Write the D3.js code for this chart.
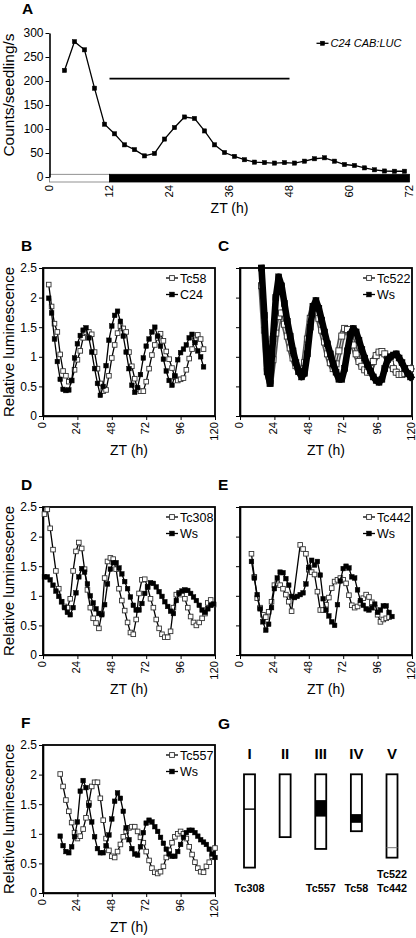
<!DOCTYPE html>
<html><head><meta charset="utf-8">
<script src="https://cdn.jsdelivr.net/npm/d3@7"></script>
<style>
body{margin:0;background:#fff}
svg{display:block}
text{font-family:"Liberation Sans",Arial,Helvetica,sans-serif;fill:#000}
</style>
</head><body>
<svg id="c" width="416" height="938"></svg>
<script>
// ---------------- DATA ----------------
// Panel A
const A_time   = [3,5,7,9,11,13,15,17,19,21,23,25,27,29,31,33,35,37,39,41,43,45,47,49,51,53,55,57,59,61,63,65,67,69,71];
const A_counts = [222,282,265,185,110,90,67,57,44,49,79,103,125,122,96,67,51,43,36,31,30,29,30,29,33,38,40,33,26,24,19,15,12.5,12,12];
const A_yTicks = [0,50,100,150,200,250,300];
const A_xTicks = [0,12,24,36,48,60,72];
const A_lightStart = [0,12];
const A_lightEnd   = [12,72];
const A_lightKind  = ["light","dark"];
const A_periodStart = 12, A_periodEnd = 48, A_periodLevel = 205;
const A_legend = "C24 CAB:LUC";

// common luminescence panels
const lumYTicks = [0,0.5,1,1.5,2,2.5];
const lumXTicks = [0,24,48,72,96,120];

// Panel B
const B_time  = [4,6,8,10,12,14,16,18,20,22,24,26,28,30,32,34,36,38,40,42,44,46,48,50,52,54,56,58,60,62,64,66,68,70,72,74,76,78,80,82,84,86,88,90,92,94,96,98,100,102,104,106,108,110,112];
const B_Tc58  = [2.22,1.85,1.56,1.42,1.04,0.76,0.68,0.58,0.60,0.78,0.95,1.10,1.32,1.42,1.42,1.38,1.08,0.80,0.55,0.42,0.44,0.68,0.98,1.20,1.40,1.52,1.48,1.42,1.08,0.84,0.63,0.45,0.42,0.42,0.58,0.80,1.03,1.20,1.32,1.39,1.27,1.09,0.96,0.81,0.66,0.60,0.62,0.64,0.78,0.97,1.13,1.28,1.37,1.30,1.13];
const B_C24   = [1.99,1.74,1.30,0.92,0.62,0.45,0.43,0.44,0.60,0.98,1.22,1.36,1.45,1.49,1.32,1.08,0.80,0.55,0.35,0.50,0.85,1.28,1.52,1.70,1.77,1.60,1.35,1.08,0.80,0.52,0.40,0.48,0.70,0.98,1.18,1.30,1.42,1.50,1.35,1.18,0.96,0.76,0.60,0.52,0.68,0.95,1.07,1.13,1.20,1.32,1.38,1.24,1.10,1.00,0.83];

// Panel C
const C_time  = [15,17,19,21,23,25,27,29,31,33,35,37,39,41,43,45,47,49,51,53,55,57,59,61,63,65,67,69,71,73,75,77,79,81,83,85,87,89,91,93,95,97,99,101,103,105,107,109,111,113,115,117,119];
const C_Tc522 = [2.20,1.45,0.75,0.55,0.95,1.40,1.68,1.74,1.55,1.35,1.15,0.98,0.85,0.75,0.72,0.90,1.30,1.65,1.85,1.82,1.65,1.45,1.25,1.05,0.90,0.80,0.88,1.10,1.35,1.48,1.46,1.35,1.20,1.05,0.92,0.84,0.78,0.74,0.80,0.92,1.02,1.08,1.09,1.05,0.96,0.88,0.80,0.74,0.70,0.70,0.72,0.76,0.80];
const C_Ws    = [2.50,1.70,0.75,0.55,1.30,2.00,2.35,2.20,1.90,1.60,1.35,1.10,0.90,0.75,0.66,0.72,1.05,1.50,1.85,1.95,1.82,1.62,1.42,1.22,1.05,0.88,0.74,0.62,0.62,0.80,1.10,1.38,1.48,1.42,1.28,1.12,0.98,0.86,0.76,0.66,0.60,0.57,0.62,0.80,0.95,1.00,1.03,1.05,0.98,0.90,0.80,0.72,0.66];

// Panel D
const D_time   = [1,3,5,7,9,11,13,15,17,19,21,23,25,27,29,31,33,35,37,39,41,43,45,47,49,51,53,55,57,59,61,63,65,67,69,71,73,75,77,79,81,83,85,87,89,91,93,95,97,99,101,103,105,107,109,111,113,115,117,119];
const D_Tc308  = [2.38,2.46,2.14,1.78,1.42,1.12,0.90,0.82,0.80,0.95,1.42,1.75,1.90,1.80,1.45,1.10,0.80,0.62,0.54,0.45,0.70,1.30,1.58,1.64,1.62,1.45,1.12,0.92,0.75,0.55,0.38,0.35,0.60,1.04,1.27,1.28,1.15,0.95,0.80,0.60,0.45,0.35,0.30,0.30,0.40,0.80,1.02,1.05,1.02,0.95,0.80,0.65,0.55,0.50,0.55,0.62,0.70,0.88,0.93,0.85];
const D_Ws     = [1.32,1.32,1.27,1.18,1.08,0.99,0.90,0.80,0.72,0.68,0.80,1.05,1.32,1.46,1.40,1.20,1.00,0.88,0.78,0.70,0.68,0.85,1.20,1.45,1.56,1.56,1.47,1.37,1.24,1.12,0.98,0.84,0.76,0.76,0.87,1.04,1.15,1.22,1.21,1.15,1.07,0.99,0.90,0.82,0.74,0.70,0.92,1.04,1.08,1.10,1.09,1.04,0.98,0.92,0.84,0.76,0.72,0.78,0.84,0.86];

// Panel E
const E_Tc442_time = [8,10,12,14,16,18,20,22,24,26,28,30,32,34,36,42,44,46,48,50,52,54,56,58,60,62,64,66,68,70,72,74,76,78,80,82,84,86,88,90,92,94,96,98,100,102,104];
const E_Tc442 = [1.71,1.32,0.96,0.80,0.68,0.64,0.73,0.90,1.18,1.21,1.18,1.12,1.02,0.90,0.74,1.86,1.79,1.71,1.44,1.40,1.36,1.07,0.76,0.76,0.85,0.97,1.13,1.24,1.27,1.30,1.27,1.21,1.01,0.84,0.80,0.82,0.88,0.96,1.02,0.98,0.89,0.80,0.68,0.56,0.60,0.62,0.64];
const E_Ws_time = [8,10,12,14,16,18,20,22,24,26,28,30,32,34,36,38,40,42,44,46,48,50,52,54,56,58,60,62,64,66,68,70,72,74,76,78,80,82,84,86,88,90,92,94,96,98,100,102,104,106];
const E_Ws = [1.58,1.30,1.02,0.78,0.56,0.42,0.52,0.80,1.12,1.30,1.40,1.39,1.29,1.18,0.99,0.97,0.99,1.02,1.05,1.20,1.48,1.60,1.52,1.58,1.35,0.95,0.76,0.66,0.56,0.50,0.85,1.25,1.46,1.50,1.47,1.32,1.30,1.10,0.92,0.84,0.78,0.76,0.80,0.86,0.72,0.76,0.83,0.83,0.72,0.65];

// Panel F
const F_time  = [12,14,16,18,20,22,24,26,28,30,32,34,36,38,40,42,44,46,48,50,52,54,56,58,60,62,64,66,68,70,72,74,76,78,80,82,84,86,88,90,92,94,96,98,100,102,104,106,108,110,112,114,116,118,120];
const F_Tc557 = [2.01,1.80,1.57,1.38,1.19,1.02,0.92,0.96,1.08,1.27,1.52,1.80,1.87,1.87,1.60,1.23,0.92,0.72,0.62,0.60,0.70,0.82,0.95,1.04,1.10,1.12,1.12,1.04,0.94,0.85,0.70,0.55,0.42,0.35,0.33,0.36,0.45,0.60,0.72,0.85,0.95,1.00,1.04,1.00,0.92,0.78,0.65,0.52,0.42,0.36,0.35,0.45,0.52,0.62,0.76];
const F_Ws    = [0.96,0.80,0.70,0.68,0.78,0.95,1.20,1.72,1.90,1.78,1.48,1.20,0.95,0.75,0.68,0.68,0.80,0.98,1.25,1.55,1.69,1.60,1.38,1.10,0.90,0.75,0.66,0.64,0.78,1.02,1.18,1.23,1.20,1.12,1.04,0.94,0.84,0.74,0.66,0.62,0.62,0.70,0.82,0.94,1.02,1.06,1.06,1.02,0.96,0.90,0.86,0.82,0.74,0.66,0.60];

// Panel G (chromosome map, arbitrary length units)
const chromosomes    = ["I","II","III","IV","V"];
const chromLength    = [30, 20.2, 24, 18.3, 26.8];
const chromMarkStart = [11.2, null, 8.3, 12.8, 23.6];
const chromMarkEnd   = [11.2, null, 13.6, 15.6, 23.6];
const chromLines     = [["Tc308"], [], ["Tc557"], ["Tc58"], ["Tc522","Tc442"]];

// ---------------- DRAWING ----------------
const svg = d3.select("#c");

function styleAxis(g, fs){
  g.select(".domain").attr("stroke","#000").attr("stroke-width",1.6);
  g.selectAll(".tick line").attr("stroke","#000").attr("stroke-width",1);
  g.selectAll(".tick text").attr("font-size",fs||11.5).attr("fill","#000")
    .attr("font-family","Liberation Sans, Arial, sans-serif");
}

// ribbon: dense-sampling look (thick band drawn under the markers)
function drawSeries(g, x, y, t, v, open, size, ribbon){
  const line = d3.line().x((d,i)=>x(t[i])).y(d=>y(d));
  if(ribbon){
    g.append("path").datum(v).attr("d",line).attr("fill","none")
      .attr("stroke",open?"#555":"#000").attr("stroke-width",size+0.6)
      .attr("stroke-linejoin","round").attr("stroke-linecap","square");
    if(open){
      g.append("path").datum(v).attr("d",line).attr("fill","none")
        .attr("stroke","#e6e6e6").attr("stroke-width",size-2.6)
        .attr("stroke-linejoin","round");
    }
  }
  g.append("path").datum(v).attr("d",line).attr("fill","none")
    .attr("stroke",ribbon&&open?"#444":"#000").attr("stroke-width",1.3);
  g.append("g").selectAll("rect").data(v).join("rect")
    .attr("x",(d,i)=>x(t[i])-size/2).attr("y",d=>y(d)-size/2)
    .attr("width",size).attr("height",size)
    .attr("fill",open?"#fff":"#000")
    .attr("stroke",open?"#333":"#000").attr("stroke-width",open?0.9:0.5);
}

function legendItem(g, cx, cy, label, open, size, italic, fs){
  g.append("line").attr("x1",cx-6).attr("x2",cx+6).attr("y1",cy).attr("y2",cy)
    .attr("stroke","#000").attr("stroke-width",1.3);
  g.append("rect").attr("x",cx-size/2).attr("y",cy-size/2).attr("width",size).attr("height",size)
    .attr("fill",open?"#fff":"#000").attr("stroke",open?"#333":"#000").attr("stroke-width",open?0.9:0.5);
  g.append("text").attr("x",cx+8).attr("y",cy).attr("dy","0.36em")
    .attr("font-size",fs).attr("font-style",italic?"italic":"normal").text(label);
}

function panelLetter(x, y, s){
  svg.append("text").attr("x",x).attr("y",y).attr("font-size",15.5)
    .attr("font-weight","bold").text(s);
}

// ---- Panel A ----
(function(){
  const x = d3.scaleLinear().domain([0,72]).range([49.5,409.5]);
  const y = d3.scaleLinear().domain([0,300]).range([177,33]);
  const g = svg.append("g");
  panelLetter(22, 14, "A");
  g.selectAll("rect.ld").data(A_lightKind).join("rect").attr("class","ld")
    .attr("x",(d,i)=>x(A_lightStart[i])).attr("y",y(0)-2.7)
    .attr("width",(d,i)=>x(A_lightEnd[i])-x(A_lightStart[i])).attr("height",7.7)
    .attr("fill",d=>d==="dark"?"#000":"#fff")
    .attr("stroke",d=>d==="dark"?"#000":"#777").attr("stroke-width",0.8);
  const ya = g.append("g").attr("transform",`translate(${x(0)},0)`)
    .call(d3.axisLeft(y).tickValues(A_yTicks).tickSize(4).tickSizeOuter(0));
  styleAxis(ya, 12);
  ya.selectAll(".tick text").attr("x",-6);
  g.selectAll("text.xt").data(A_xTicks).join("text").attr("class","xt")
    .attr("transform",d=>`translate(${x(d)+3.5},${y(0)+8}) rotate(-90)`)
    .attr("text-anchor","end").attr("font-size",11.3).text(d=>d);
  g.append("line").attr("x1",x(A_periodStart)).attr("x2",x(A_periodEnd))
    .attr("y1",y(A_periodLevel)).attr("y2",y(A_periodLevel))
    .attr("stroke","#000").attr("stroke-width",1.6);
  drawSeries(g, x, y, A_time, A_counts, false, 4.2, false);
  legendItem(g, 322.5, 43.3, A_legend, false, 4.2, true, 11);
  g.append("text").attr("transform",`translate(${(x(0)+x(72))/2},213)`)
    .attr("text-anchor","middle").attr("font-size",14).text("ZT (h)");
  g.append("text").attr("transform",`translate(13.5,95) rotate(-90)`)
    .attr("text-anchor","middle").attr("font-size",15.5).text("Counts/seedling/s");
})();

// ---- Luminescence panels ----
function lumPanel(cfg){
  const w = 172, h = 148;
  const x = d3.scaleLinear().domain([0,120]).range([cfg.left, cfg.left+w]);
  const y = d3.scaleLinear().domain([0,2.5]).range([cfg.top+h, cfg.top]);
  const g = svg.append("g");
  panelLetter(cfg.left-22, cfg.top-17, cfg.letter);
  const ya = g.append("g").attr("transform",`translate(${cfg.left},0)`)
    .call(d3.axisLeft(y).tickValues(lumYTicks).tickSize(4).tickSizeOuter(0)
      .tickFormat(d=>cfg.yLabels?String(d):""));
  styleAxis(ya, 12);
  ya.selectAll(".tick text").attr("x",-6);
  const xa = g.append("g").attr("transform",`translate(0,${cfg.top+h})`)
    .call(d3.axisBottom(x).tickValues(lumXTicks).tickSize(4).tickSizeOuter(0).tickFormat(""));
  styleAxis(xa);
  g.selectAll("text.xt").data(lumXTicks).join("text").attr("class","xt")
    .attr("transform",d=>`translate(${x(d)+3},${cfg.top+h+6}) rotate(-90)`)
    .attr("text-anchor","end").attr("font-size",11.2).text(d=>d);
  g.append("rect").attr("x",cfg.left).attr("y",cfg.top).attr("width",w).attr("height",h)
    .attr("fill","none").attr("stroke","#000").attr("stroke-width",1.8);
  cfg.series.forEach(s=>drawSeries(g, x, y, s.t, s.v, s.open, cfg.ms, cfg.ribbon));
  cfg.series.forEach((s,i)=>legendItem(g, cfg.left+w-43, cfg.top+10+i*16.5, s.name, s.open, 4.8, false, 12.5));
  g.append("text").attr("x",cfg.left+w/2).attr("y",cfg.top+h+39)
    .attr("text-anchor","middle").attr("font-size",14).text("ZT (h)");
  if(cfg.yLabels){
    g.append("text").attr("transform",`translate(13.5,${cfg.top+h/2}) rotate(-90)`)
      .attr("text-anchor","middle").attr("font-size",15).text("Relative luminescence");
  }
}

lumPanel({letter:"B", left:43, top:268, yLabels:true, ms:4.6,
  series:[{name:"Tc58", t:B_time, v:B_Tc58, open:true},{name:"C24", t:B_time, v:B_C24, open:false}]});
lumPanel({letter:"C", left:240, top:268, yLabels:false, ms:6, ribbon:true,
  series:[{name:"Tc522", t:C_time, v:C_Tc522, open:true},{name:"Ws", t:C_time, v:C_Ws, open:false}]});
lumPanel({letter:"D", left:43, top:507, yLabels:true, ms:4.6,
  series:[{name:"Tc308", t:D_time, v:D_Tc308, open:true},{name:"Ws", t:D_time, v:D_Ws, open:false}]});
lumPanel({letter:"E", left:240, top:507, yLabels:false, ms:4.6,
  series:[{name:"Tc442", t:E_Tc442_time, v:E_Tc442, open:true},{name:"Ws", t:E_Ws_time, v:E_Ws, open:false}]});
lumPanel({letter:"F", left:43, top:745, yLabels:true, ms:4.6,
  series:[{name:"Tc557", t:F_time, v:F_Tc557, open:true},{name:"Ws", t:F_time, v:F_Ws, open:false}]});

// ---- Panel G ----
(function(){
  const g = svg.append("g");
  panelLetter(218, 729, "G");
  const x = d3.scalePoint().domain(chromosomes).range([249.5, 392]);
  const y = d3.scaleLinear().domain([0,30]).range([774.3, 867.6]);
  const cw = 11;
  g.selectAll("text.rn").data(chromosomes).join("text").attr("class","rn")
    .attr("x",d=>x(d)).attr("y",758.5).attr("text-anchor","middle")
    .attr("font-family","Liberation Serif, Times New Roman, serif")
    .attr("font-weight","bold").attr("font-size",15).text(d=>d);
  g.selectAll("rect.ch").data(chromosomes).join("rect").attr("class","ch")
    .attr("x",d=>x(d)-cw/2).attr("y",y(0)).attr("width",cw)
    .attr("height",(d,i)=>y(chromLength[i])-y(0))
    .attr("fill","#fff").attr("stroke","#000").attr("stroke-width",1.8);
  chromosomes.forEach((c,i)=>{
    const s = chromMarkStart[i], e = chromMarkEnd[i];
    if(s===null) return;
    if(e>s){
      g.append("rect").attr("x",x(c)-cw/2).attr("y",y(s)).attr("width",cw)
        .attr("height",y(e)-y(s)).attr("fill","#000");
    } else {
      g.append("line").attr("x1",x(c)-cw/2).attr("x2",x(c)+cw/2)
        .attr("y1",y(s)).attr("y2",y(s))
        .attr("stroke", i===4?"#777":"#000").attr("stroke-width", i===4?1:1.4);
    }
    const names = chromLines[i];
    names.forEach((n,k)=>{
      g.append("text").attr("x",x(c)).attr("y",892-(names.length-1-k)*14.3)
        .attr("text-anchor","middle").attr("font-weight","bold").attr("font-size",10.8).text(n);
    });
  });
})();
</script>
</body></html>
